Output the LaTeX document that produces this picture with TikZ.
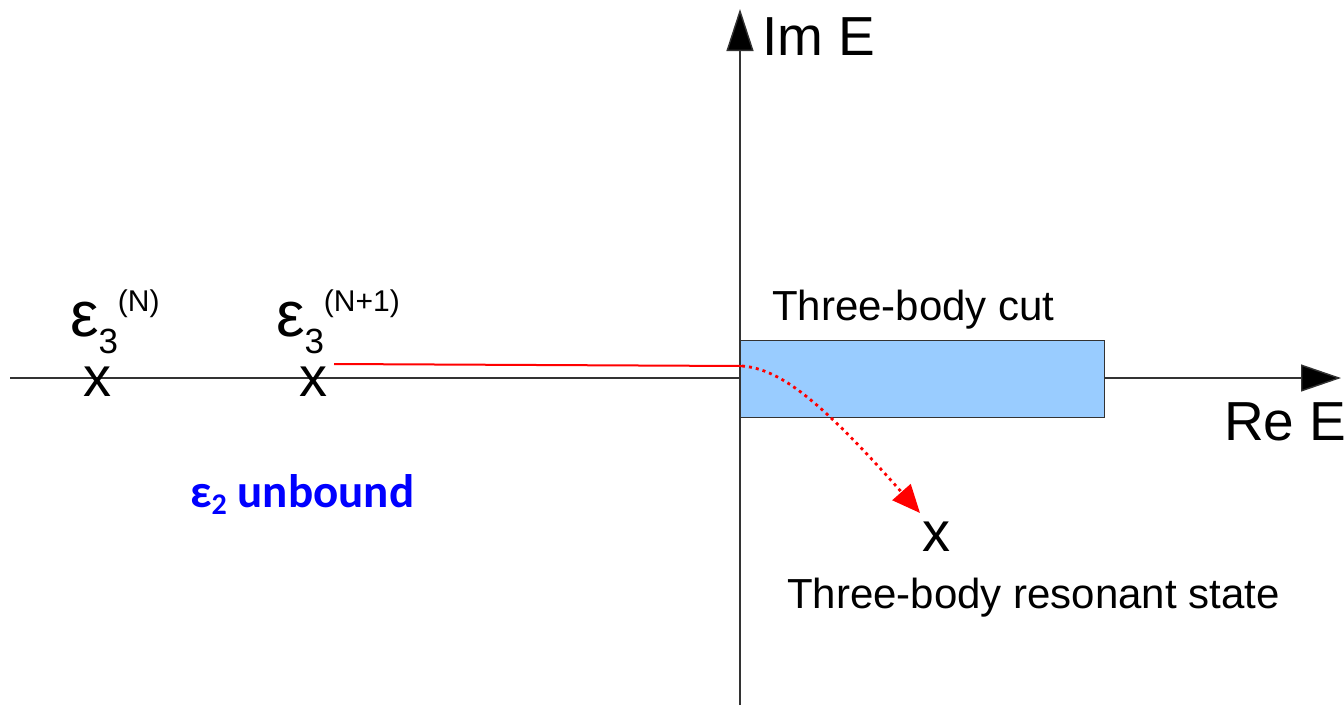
\documentclass[tikz,border=0pt]{standalone}
\usepackage{fontspec}
\setmainfont{Liberation Sans}
\newfontfamily\carlito{Carlito}
\usetikzlibrary{arrows.meta}
\definecolor{cutblue}{HTML}{99CCFF}
\definecolor{axisgray}{HTML}{333333}
\newcommand{\epslabel}[2]{ε\raisebox{-17pt}{\fontsize{35}{35}\selectfont #1}\raisebox{25pt}{\fontsize{30}{30}\selectfont #2}}
\begin{document}
\begin{tikzpicture}[x=1pt,y=-1pt,
  axis/.style={draw=axisgray,line width=1.4pt},
  txt/.style={inner sep=0pt,outer sep=0pt,anchor=base west,font=\fontsize{42}{46}\selectfont},
  bigtxt/.style={inner sep=0pt,outer sep=0pt,anchor=base west,font=\fontsize{55}{60}\selectfont},
  xmark/.style={inner sep=0pt,outer sep=0pt,anchor=center,font=\fontsize{56}{60}\selectfont},
  epsl/.style={inner sep=0pt,outer sep=0pt,anchor=base west,font=\fontsize{64}{64}\selectfont},
  redline/.style={draw=red,line width=2pt},
  redflow/.style={draw=red,line width=2.8pt,dash pattern=on 3pt off 4pt,
    -{Triangle[length=28pt,width=24pt,fill=red]}}
]
\useasboundingbox (0,0) rectangle (1344,705);
% axes
\coordinate (xl) at (10,378);
\coordinate (xr) at (1341,378);
\coordinate (yb) at (740,705);
\coordinate (yt) at (740,9);
\draw[axis,-{Triangle[length=40pt,width=27pt,fill=black]}] (xl) -- (xr);
% cut
\node[draw=axisgray,line width=1.4pt,fill=cutblue,minimum width=364pt,minimum height=77pt,
  inner sep=0pt,anchor=north west] (cut) at (740,340) {};
\draw[axis,-{Triangle[length=42pt,width=27pt,fill=black]}] (yb) -- (yt);
% labels of axes
\node[bigtxt] (im) at (762,55) {Im E};
\node[bigtxt] (re) at (1224,440) {Re E};
\node[txt] (cutlbl) at (772,320) {Three-body cut};
\node[txt] (reslbl) at (787,608) {Three-body resonant state};
% x marks
\node[xmark] (x1) at (97,382) {x};
\node[xmark] (x2) at (313,382) {x};
\node[xmark] (x3) at (936,537) {x};
% epsilon labels
\node[epsl] (e1) at (70,336) {\epslabel{3}{(N)}};
\node[epsl] (e2) at (276,336) {\epslabel{3}{(N+1)}};
% unbound label
\node[inner sep=0pt,anchor=base west,text=blue,font=\carlito\bfseries\fontsize{47}{50}\selectfont] (unb) at (190,507)
  {ε\raisebox{-7pt}{\fontsize{30}{30}\selectfont 2} unbound};
% red path
\coordinate (r0) at (334,364);
\coordinate (r1) at (742,366);
\coordinate (r2) at (920,513);
\draw[redline] (r0) -- (r1);
\draw[redflow] (r1) .. controls (780,369) and (820,400) .. (r2);
\end{tikzpicture}
\end{document}
